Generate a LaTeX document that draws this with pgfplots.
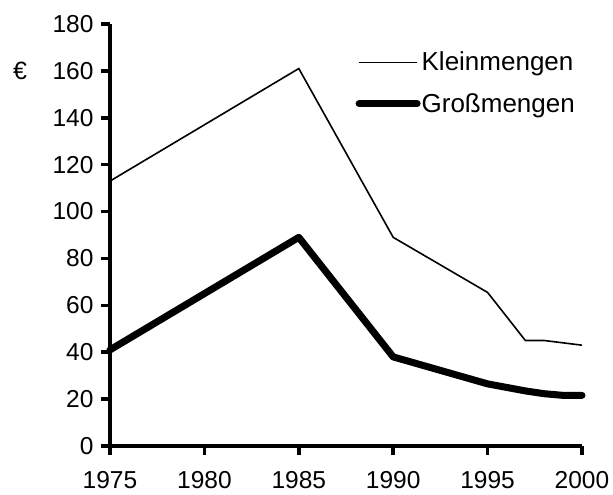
\documentclass[border=0pt]{standalone}
\usepackage{fontspec}
\setmainfont{Liberation Sans}
\usepackage{pgfplots}
\pgfplotsset{compat=1.18}
\begin{document}
\begin{tikzpicture}
\path[use as bounding box] (-110pt,-49pt) rectangle (503pt,446pt);
\begin{axis}[
  at={(0pt,0pt)}, anchor=south west,
  scale only axis, width=472pt, height=422pt,
  xmin=1975, xmax=2000, ymin=0, ymax=180,
  axis lines*=left,
  axis line style={line width=3.5pt},
  xtick={1975,1980,...,2000},
  ytick={0,20,...,180},
  tick align=outside,
  major tick length=9pt,
  tick style={line width=3.5pt, black},
  x tick label style={/pgf/number format/1000 sep={}},
  /pgf/number format/assume math mode=true,
  tick label style={font=\fontsize{24.5}{29}\selectfont},
  xticklabel style={yshift=-15pt, inner sep=1pt},
  yticklabel style={xshift=-4pt},
  clip=false,
  legend style={at={(axis cs:1988,168.5)}, anchor=north west, draw=none, fill=none,
    font=\fontsize{26}{30}\selectfont, row sep=19pt, inner sep=0pt,
    nodes={inner sep=1pt, anchor=west}},
  legend cell align=left,
  legend image code/.code={\draw[#1] (0pt,0pt) -- (58pt,0pt);},
]
\addplot[black, line width=1.6pt, line join=miter] coordinates {
(1975,113) (1985,161) (1990,89) (1995,65.5) (1997,45) (1998,45) (1999,44) (2000,43)};
\addlegendentry{Kleinmengen}
\addplot[black, line width=7pt, line join=round, line cap=round] coordinates {
(1975,41) (1985,89) (1990,38) (1995,26.5) (1996,25) (1997,23.5) (1998,22.3) (1999,21.6) (2000,21.6)};
\addlegendentry{Großmengen}
\node[font=\fontsize{25}{29}\selectfont] at (axis cs:1975,160) [xshift=-90pt] {€};
\end{axis}
\end{tikzpicture}
\end{document}
